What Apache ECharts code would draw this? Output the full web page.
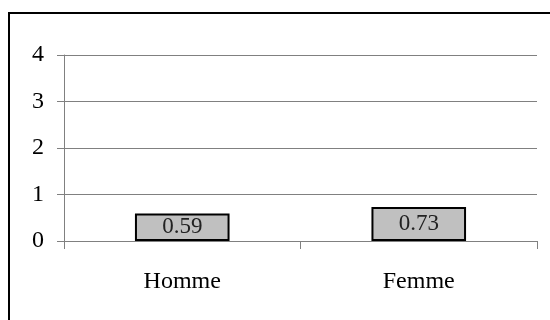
<!DOCTYPE html>
<html>
<head>
<meta charset="utf-8">
<script src="https://cdn.jsdelivr.net/npm/echarts@6/dist/echarts.min.js"></script>
<style>
html,body{margin:0;padding:0;background:#fff;}
#c{width:550px;height:320px;}
</style>
</head>
<body>
<div id="c"></div>
<script>
var categories = ['Homme', 'Femme'];
var values = [0.59, 0.73];
var yTicks = [0, 1, 2, 3, 4];

var chart = echarts.init(document.getElementById('c'), null, {renderer: 'canvas'});
var font = '"Liberation Serif", "Times New Roman", serif';
chart.setOption({
  animation: false,
  backgroundColor: '#fff',
  graphic: [{
    type: 'rect',
    shape: {x: 9, y: 13, width: 600, height: 400},
    style: {fill: 'none', stroke: '#000', lineWidth: 2},
    silent: true
  }],
  grid: {left: 64, right: 13, top: 55, bottom: 79, containLabel: false},
  xAxis: {
    type: 'category',
    data: categories,
    axisLine: {show: true, lineStyle: {color: '#808080', width: 1}},
    axisTick: {show: true, alignWithLabel: false, length: 8, lineStyle: {color: '#808080'}},
    axisLabel: {color: '#000', fontFamily: font, fontSize: 24, margin: 29},
    splitLine: {show: false}
  },
  yAxis: {
    type: 'value',
    min: yTicks[0],
    max: yTicks[yTicks.length - 1],
    interval: 1,
    axisLine: {show: true, lineStyle: {color: '#808080', width: 1}},
    axisTick: {show: true, length: 7, lineStyle: {color: '#808080'}},
    axisLabel: {color: '#000', fontFamily: font, fontSize: 24, margin: 20, padding: [5, 0, 0, 0]},
    splitLine: {show: true, lineStyle: {color: '#808080', width: 1}}
  },
  series: [{
    type: 'bar',
    data: values,
    barWidth: '40%',
    itemStyle: {color: '#c0c0c0', borderColor: '#000', borderWidth: 2},
    label: {
      show: true,
      position: 'inside',
      color: '#222',
      fontFamily: font,
      fontSize: 23
    }
  }]
});
</script>
</body>
</html>
